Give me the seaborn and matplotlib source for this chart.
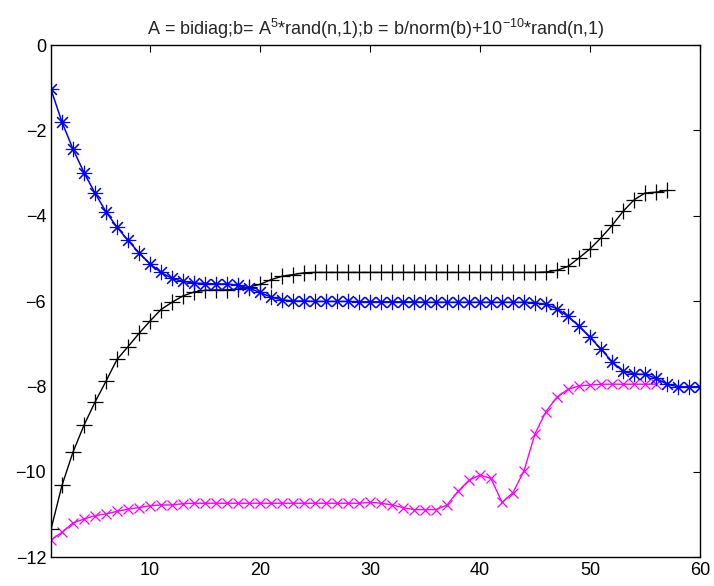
import numpy as np
import pandas as pd
import matplotlib
matplotlib.use("Agg")
import matplotlib.pyplot as plt
import seaborn as sns

blue_vals = [-1.04, -1.81, -2.44, -2.99, -3.47, -3.91, -4.27, -4.58, -4.87, -5.13,
             -5.33, -5.47, -5.54, -5.58, -5.59, -5.60, -5.60, -5.63, -5.70, -5.80,
             -5.91, -5.97, -6.00, -6.00, -6.01, -6.01, -6.01, -6.01, -6.02, -6.02,
             -6.02, -6.02, -6.02, -6.02, -6.03, -6.03, -6.03, -6.03, -6.03, -6.03,
             -6.03, -6.03, -6.03, -6.03, -6.04, -6.08, -6.18, -6.36, -6.59, -6.85,
             -7.13, -7.42, -7.65, -7.71, -7.72, -7.81, -7.95, -8.01, -8.01, -8.02]
black_vals = [-11.35, -10.32, -9.54, -8.91, -8.37, -7.88, -7.37, -7.07, -6.76, -6.47,
              -6.20, -6.03, -5.88, -5.79, -5.75, -5.74, -5.74, -5.72, -5.67, -5.61,
              -5.50, -5.42, -5.38, -5.34, -5.33, -5.33, -5.33, -5.33, -5.33, -5.33,
              -5.33, -5.33, -5.33, -5.33, -5.33, -5.33, -5.33, -5.33, -5.33, -5.33,
              -5.33, -5.33, -5.33, -5.33, -5.33, -5.32, -5.28, -5.19, -4.99, -4.78,
              -4.52, -4.23, -3.90, -3.63, -3.47, -3.45, -3.41]
magenta_vals = [-11.60, -11.42, -11.20, -11.11, -11.03, -10.99, -10.93, -10.88, -10.84, -10.80,
                -10.78, -10.78, -10.75, -10.74, -10.74, -10.74, -10.74, -10.74, -10.74, -10.74,
                -10.74, -10.74, -10.74, -10.74, -10.74, -10.74, -10.74, -10.74, -10.74, -10.72,
                -10.74, -10.78, -10.84, -10.89, -10.89, -10.89, -10.78, -10.46, -10.20, -10.08,
                -10.16, -10.72, -10.49, -9.98, -9.11, -8.59, -8.25, -8.07, -7.99, -7.97,
                -7.95, -7.95, -7.95, -7.95, -7.95, -7.95]
x_ticks = [10, 20, 30, 40, 50, 60]
y_ticks = [0, -2, -4, -6, -8, -10, -12]
title = r"A = bidiag;b= A$^{5}$*rand(n,1);b = b/norm(b)+10$^{-10}$*rand(n,1)"

sns.set_style("white")
plt.rcParams['font.family'] = ['Liberation Sans', 'DejaVu Sans']
plt.rcParams['mathtext.fontset'] = 'custom'
plt.rcParams['mathtext.rm'] = 'Liberation Sans'
plt.rcParams['mathtext.it'] = 'Liberation Sans'

fig = plt.figure(figsize=(7.14, 5.86), dpi=100)
ax = fig.add_axes([51/714, 1-557/586, (700-51)/714, (557-45)/586])

series = [
    (magenta_vals, '#ff00ff', 'x', 7, 0.9, 1.0),
    (black_vals, 'black', '+', 11, 0.9, 1.0),
    (blue_vals, '#0000ff', (8, 2, 0), 11, 0.8, 1.1),
]
for vals, col, mk, ms, mew, lw in series:
    df = pd.DataFrame({'x': np.arange(1, len(vals) + 1), 'y': vals})
    sns.lineplot(data=df, x='x', y='y', ax=ax, color=col, marker=mk,
                 markersize=ms, markeredgewidth=mew, linewidth=lw,
                 markeredgecolor=col, markerfacecolor='none')

ax.set_xlim(1, 60)
ax.set_ylim(-12, 0)
ax.set_xticks(x_ticks)
ax.set_yticks(y_ticks)
ax.set_xlabel('')
ax.set_ylabel('')
ax.tick_params(direction='in', top=True, right=True, labelsize=13, length=5, width=0.8, colors='black')
for s in ax.spines.values():
    s.set_visible(True)
    s.set_color('black')
    s.set_linewidth(1.0)
ax.set_title(title, fontsize=13, pad=7)
fig.savefig('out.png', dpi=100)
